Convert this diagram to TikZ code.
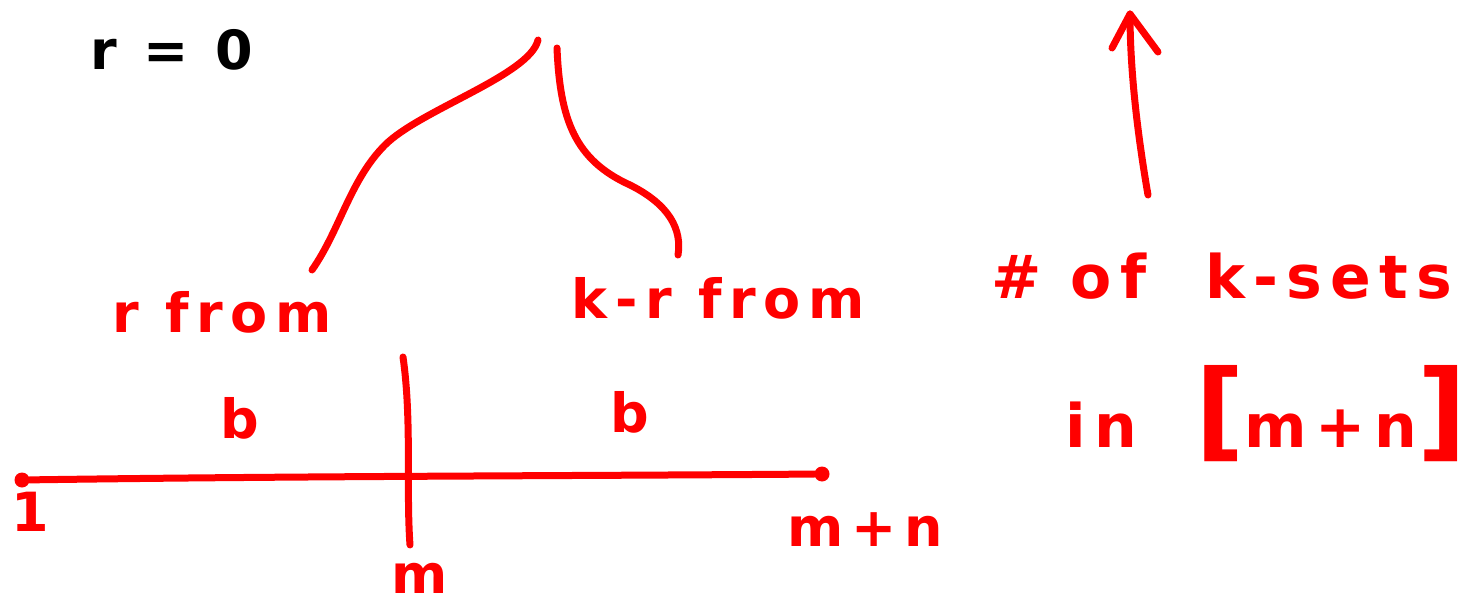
\documentclass[tikz,border=0pt]{standalone}
\usepackage{fontspec}
\newfontfamily\hand{DejaVu Sans}[LetterSpace=14]
\begin{document}
\begin{tikzpicture}[x=1pt,y=-1pt,
  ink/.style={red, line width=7pt, line cap=round, line join=round},
  lbl/.style={text=red, font=\hand\bfseries\fontsize{54}{60}\selectfont, inner sep=0pt},
  big/.style={lbl, font=\hand\bfseries\fontsize{60}{66}\selectfont},
  dot/.style={circle, fill=red, inner sep=0pt, minimum size=15pt}]
\useasboundingbox (0,0) rectangle (1480,612);
% labels
\node[lbl,text=black] (r0) at (172,50) {r = 0};
\node[lbl] (rfrom) at (222,312) {r from};
\node[lbl] (krfrom) at (718,298) {k-r from};
\node[lbl] (b1) at (240,418) {b};
\node[lbl] (b2) at (630,412) {b};
\node[lbl] (lone) at (30,512) {1};
\node[lbl] (lm) at (420,578) {m};
\node[lbl] (lmn) at (865,530) {m+n};
\node[big] (ksets) at (1222,276) {\# of \ k-sets};
\node[big] (inmn) at (1266,414) {in \ {\fontsize{108}{108}\selectfont[}m+n{\fontsize{108}{108}\selectfont]}};
% number line
\node[dot] (d1) at (22,480) {};
\node[dot] (d2) at (822,474) {};
\draw[ink] (d1) .. controls (300,476) and (560,476) .. (d2);
\coordinate (vt) at (403,357);
\coordinate (vb) at (410,545);
\draw[ink] (vt) .. controls (412,420) and (406,490) .. (vb);
% brace
\coordinate (bl) at (538,40);
\coordinate (ble) at (312,270);
\coordinate (br) at (557,48);
\coordinate (bre) at (678,255);
\draw[ink] (bl) .. controls (530,75) and (420,110) .. (385,145)
  .. controls (350,180) and (340,230) .. (ble);
\draw[ink] (br) .. controls (560,120) and (575,160) .. (630,185)
  .. controls (670,205) and (682,230) .. (bre);
% arrow
\coordinate (as) at (1148,195);
\coordinate (at) at (1130,14);
\coordinate (al) at (1112,48);
\coordinate (ar) at (1158,52);
\draw[ink] (as) .. controls (1135,120) and (1130,60) .. (at);
\draw[ink] (al) -- (at) -- (ar);
\end{tikzpicture}
\end{document}
